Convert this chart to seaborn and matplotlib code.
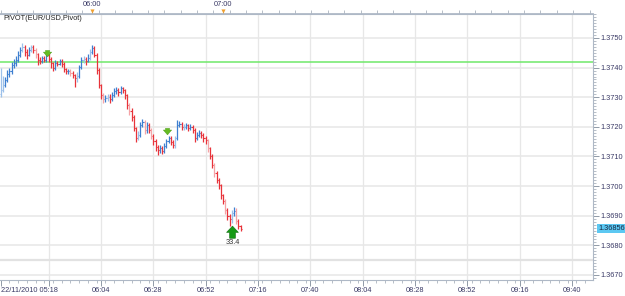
import matplotlib
matplotlib.use("Agg")
import matplotlib.pyplot as plt
import matplotlib.transforms as mtransforms
from matplotlib.ticker import FixedLocator, FixedFormatter, MultipleLocator, FormatStrFormatter
import numpy as np
import pandas as pd
import seaborn as sns

# ---------------- data (EUR/USD 1-minute bars from 22/11/2010 05:18) ----------------
opens = [1.37310,1.37324,1.37341,1.37358,1.37378,1.37388,1.37409,1.37415,1.37426,1.37443,
         1.37459,1.37470,1.37453,1.37443,1.37459,1.37470,1.37459,1.37446,1.37426,1.37422,
         1.37432,1.37426,1.37443,1.37429,1.37415,1.37399,1.37415,1.37412,1.37422,1.37412,
         1.37395,1.37388,1.37388,1.37382,1.37375,1.37365,1.37372,1.37402,1.37426,1.37429,
         1.37422,1.37432,1.37453,1.37466,1.37443,1.37392,1.37341,1.37307,1.37294,1.37297,
         1.37301,1.37294,1.37307,1.37321,1.37324,1.37318,1.37331,1.37324,1.37307,1.37274,
         1.37253,1.37233,1.37196,1.37162,1.37172,1.37206,1.37216,1.37189,1.37206,1.37189,
         1.37169,1.37152,1.37132,1.37121,1.37128,1.37118,1.37135,1.37152,1.37162,1.37149,
         1.37138,1.37162,1.37206,1.37209,1.37199,1.37199,1.37206,1.37196,1.37199,1.37189,
         1.37162,1.37172,1.37179,1.37172,1.37162,1.37155,1.37128,1.37101,1.37071,1.37044,
         1.37020,1.37003,1.36969,1.36949,1.36919,1.36898,1.36888,1.36909,1.36915,1.36881,
         1.36865]
closes = [1.37324,1.37341,1.37358,1.37378,1.37388,1.37409,1.37415,1.37426,1.37443,1.37459,
          1.37470,1.37453,1.37443,1.37459,1.37470,1.37459,1.37446,1.37426,1.37422,1.37432,
          1.37426,1.37443,1.37429,1.37415,1.37399,1.37415,1.37412,1.37422,1.37412,1.37395,
          1.37388,1.37388,1.37382,1.37375,1.37365,1.37372,1.37402,1.37426,1.37429,1.37422,
          1.37432,1.37453,1.37466,1.37443,1.37392,1.37341,1.37307,1.37294,1.37297,1.37301,
          1.37294,1.37307,1.37321,1.37324,1.37318,1.37331,1.37324,1.37307,1.37274,1.37253,
          1.37233,1.37196,1.37162,1.37172,1.37206,1.37216,1.37189,1.37206,1.37189,1.37169,
          1.37152,1.37132,1.37121,1.37128,1.37118,1.37135,1.37152,1.37162,1.37149,1.37138,
          1.37162,1.37206,1.37209,1.37199,1.37199,1.37206,1.37196,1.37199,1.37189,1.37162,
          1.37172,1.37179,1.37172,1.37162,1.37155,1.37128,1.37101,1.37071,1.37044,1.37020,
          1.37003,1.36969,1.36949,1.36919,1.36898,1.36888,1.36909,1.36915,1.36881,1.36865,
          1.36856]
highs = [1.37400,1.37372,1.37368,1.37392,1.37399,1.37418,1.37428,1.37440,1.37455,1.37468,
         1.37482,1.37476,1.37462,1.37471,1.37478,1.37475,1.37466,1.37450,1.37435,1.37440,
         1.37438,1.37452,1.37448,1.37435,1.37420,1.37425,1.37422,1.37430,1.37428,1.37418,
         1.37400,1.37396,1.37394,1.37388,1.37380,1.37385,1.37410,1.37435,1.37440,1.37436,
         1.37445,1.37462,1.37476,1.37472,1.37448,1.37398,1.37345,1.37315,1.37308,1.37312,
         1.37310,1.37318,1.37330,1.37335,1.37332,1.37338,1.37336,1.37328,1.37312,1.37280,
         1.37262,1.37240,1.37200,1.37185,1.37218,1.37228,1.37222,1.37215,1.37212,1.37195,
         1.37175,1.37158,1.37138,1.37140,1.37135,1.37145,1.37160,1.37170,1.37168,1.37155,
         1.37170,1.37222,1.37220,1.37215,1.37208,1.37212,1.37210,1.37208,1.37205,1.37195,
         1.37182,1.37188,1.37185,1.37178,1.37168,1.37160,1.37132,1.37108,1.37078,1.37050,
         1.37028,1.37008,1.36975,1.36955,1.36925,1.36905,1.36920,1.36930,1.36925,1.36890,
         1.36870]
lows = [1.37300,1.37318,1.37335,1.37350,1.37369,1.37380,1.37398,1.37405,1.37420,1.37436,
        1.37452,1.37440,1.37430,1.37438,1.37452,1.37448,1.37432,1.37410,1.37412,1.37415,
        1.37418,1.37420,1.37420,1.37400,1.37390,1.37392,1.37405,1.37408,1.37402,1.37385,
        1.37380,1.37378,1.37372,1.37365,1.37335,1.37350,1.37365,1.37395,1.37415,1.37410,
        1.37418,1.37425,1.37445,1.37435,1.37380,1.37330,1.37295,1.37282,1.37285,1.37288,
        1.37280,1.37288,1.37300,1.37312,1.37305,1.37310,1.37315,1.37295,1.37260,1.37240,
        1.37220,1.37185,1.37150,1.37155,1.37165,1.37198,1.37175,1.37180,1.37178,1.37158,
        1.37140,1.37120,1.37105,1.37112,1.37108,1.37112,1.37128,1.37145,1.37140,1.37128,
        1.37130,1.37155,1.37198,1.37190,1.37190,1.37192,1.37186,1.37188,1.37178,1.37150,
        1.37155,1.37165,1.37162,1.37150,1.37142,1.37115,1.37090,1.37060,1.37032,1.37010,
        1.36990,1.36958,1.36938,1.36905,1.36885,1.36865,1.36875,1.36900,1.36872,1.36855,
        1.36850]
faded_bars = [0, 1, 10, 14, 16, 32, 35, 38, 41, 47, 49, 59, 63, 66, 69, 80, 84, 95, 98, 103, 106, 108]

pivot_level = 1.37419
extra_level = 1.36750
price_ticks = [1.3670, 1.3680, 1.3690, 1.3700, 1.3710, 1.3720, 1.3730, 1.3740, 1.3750]
bottom_tick_minutes = [0, 22, 46, 70, 94, 118, 142, 166, 190, 214, 238, 262]
bottom_tick_labels = ["22/11/2010 05:18", "", "06:04", "06:28", "06:52", "07:16", "07:40",
                      "08:04", "08:28", "08:52", "09:16", "09:40"]
top_tick_minutes = [42, 102]
top_tick_labels = ["06:00", "07:00"]
signal_minutes = [21.5, 76.5]
signal_prices = [1.37436, 1.37173]
buy_minute = 106.3
buy_price = 1.36865
buy_label = "33.4"
last_price = 1.36856
title = "PIVOT(EUR/USD,Pivot)"

# ---------------- style ----------------
sns.set_theme(style="white")
plt.rcParams['font.family'] = ['Liberation Sans', 'DejaVu Sans']

UP = "#3d7fd0"
DOWN = "#e8333a"
UP_F = "#9cc0ea"
DOWN_F = "#f5a3a6"
LBL = "#3a3a66"
GRID = "#e7e7e7"
FRAME = "#aeb8c6"
FS = 5.3

df = pd.DataFrame({"minute": np.arange(len(closes)), "open": opens, "high": highs,
                   "low": lows, "close": closes})
df["up"] = df["close"] >= df["open"]
df["faded"] = df["minute"].isin(faded_bars)
def pick(r):
    if r.up:
        return UP_F if r.faded else UP
    return DOWN_F if r.faded else DOWN
df["color"] = [pick(r) for r in df.itertuples()]

fig = plt.figure(figsize=(6.25, 2.96), dpi=100)
fig.patch.set_facecolor("white")
ax = fig.add_axes([0.0, 0.0541, 0.9488, 0.8986])
ax.set_facecolor("white")

xmin, xmax = -0.3, 271.6
ymin, ymax = 1.366831, 1.375810
ax.set_xlim(xmin, xmax)
ax.set_ylim(ymin, ymax)

# grid
for m in bottom_tick_minutes[1:]:
    ax.axvline(m, color=GRID, lw=0.9, zorder=0)
for p in price_ticks:
    ax.axhline(p, color=GRID, lw=1.1, zorder=0)
ax.axhline(extra_level, color="#e2e2e2", lw=1.6, zorder=0)

# pivot line
sns.lineplot(x=[xmin, xmax], y=[pivot_level, pivot_level], color="#6fe86a", lw=1.1, ax=ax,
             zorder=1)

# OHLC bars
ax.vlines(df["minute"], df["low"], df["high"], colors=df["color"], lw=0.9, zorder=3)
ax.hlines(df["open"], df["minute"] - 0.5, df["minute"], colors=df["color"], lw=0.8, zorder=3)
ax.hlines(df["close"], df["minute"], df["minute"] + 0.5, colors=df["color"], lw=0.8, zorder=3)

# small signal arrows
for m, p in zip(signal_minutes, signal_prices):
    ax.annotate("", xy=(m, p), xytext=(m, p + 0.00022),
                arrowprops=dict(arrowstyle="simple,head_width=0.6,head_length=0.35,tail_width=0.3",
                                fc="#66bb22", ec="#4a9a1a", lw=0.3, mutation_scale=10,
                                shrinkA=0, shrinkB=0),
                zorder=5)

# big buy arrow
ax.annotate("", xy=(buy_minute, buy_price), xytext=(buy_minute, buy_price - 0.00041),
            arrowprops=dict(arrowstyle="simple,head_width=0.85,head_length=0.45,tail_width=0.42",
                            fc="#159a15", ec="#0d6d0d", lw=0.4, mutation_scale=10,
                            shrinkA=0, shrinkB=0),
            zorder=5)
ax.text(buy_minute, buy_price - 0.00043, buy_label, ha="center", va="top", fontsize=FS,
        color="#333333", zorder=5)

# axes, ticks
for s in ["top", "right", "bottom"]:
    ax.spines[s].set_color(FRAME)
    ax.spines[s].set_linewidth(0.8)
ax.spines["left"].set_visible(False)

ax.xaxis.set_major_locator(FixedLocator(bottom_tick_minutes))
ax.xaxis.set_major_formatter(FixedFormatter(bottom_tick_labels))
ax.xaxis.set_minor_locator(MultipleLocator(4))
ax.yaxis.tick_right()
ax.yaxis.set_major_locator(FixedLocator(price_ticks))
ax.yaxis.set_major_formatter(FormatStrFormatter("%.4f"))
ax.yaxis.set_minor_locator(MultipleLocator(0.0001))
ax.tick_params(axis="both", which="major", direction="out", length=4, width=0.6,
               color="#7f8b99", labelsize=FS, labelcolor=LBL, pad=1.2)
ax.tick_params(axis="both", which="minor", direction="out", length=2, width=0.5,
               color="#9aa4b0")
ax.tick_params(axis="x", which="both", bottom=True, top=False)
ax.tick_params(axis="y", which="both", right=True, left=False)
ax.grid(False)
lbls = ax.get_xticklabels()
lbls[0].set_ha("left")

# top time axis
sec = ax.secondary_xaxis("top")
sec.set_xticks(top_tick_minutes)
sec.set_xticklabels(top_tick_labels)
sec.xaxis.set_minor_locator(MultipleLocator(7.5))
sec.tick_params(which="major", direction="out", length=3, width=0.6, color="#7f8b99",
                labelsize=FS, labelcolor=LBL, pad=1)
sec.tick_params(which="minor", direction="out", length=3, width=0.5, color="#9aa4b0")
sec.spines["top"].set_color(FRAME)
trans_top = mtransforms.blended_transform_factory(ax.transData, ax.transAxes)
ax.scatter(top_tick_minutes, [1.012] * len(top_tick_minutes), marker="v", s=9,
           color="#f0a030", transform=trans_top, clip_on=False, zorder=6, linewidths=0)

# current price box
trans_r = mtransforms.blended_transform_factory(ax.transAxes, ax.transData)
ax.text(1.009, last_price, f"{last_price:.5f}", transform=trans_r, ha="left", va="center",
        fontsize=FS, color="#1a2a44",
        bbox=dict(boxstyle="square,pad=0.12", fc="#5cc8f2", ec="none"), zorder=7)

fig.text(0.006, 1 - 18 / 296, title, fontsize=FS, color="#222222", va="center", ha="left")

fig.savefig("out.png", dpi=100, facecolor="white")
